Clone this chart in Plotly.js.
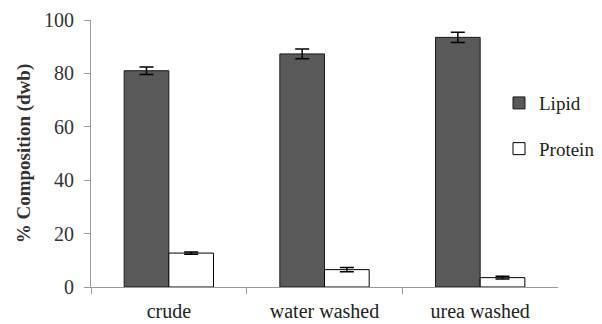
<!DOCTYPE html>
<html><head><meta charset="utf-8">
<script src="https://cdn.plot.ly/plotly-3.0.1.min.js"></script>
<style>html,body{margin:0;padding:0;background:#fff}</style>
</head><body>
<div id="chart" style="width:602px;height:324px"></div>
<script>
const categories = ["crude", "water washed", "urea washed"];
const lipid = [81.0, 87.3, 93.5];
const lipidErr = [1.4, 1.8, 1.9];
const protein = [12.7, 6.5, 3.5];
const proteinErr = [0.4, 0.8, 0.5];
const yTicks = [0, 20, 40, 60, 80, 100];

const serif = "Times New Roman, Noto Serif, Liberation Serif, serif";
const data = [
  {type: "bar", name: "Lipid", x: categories, y: lipid, legendgroup: "a",
   marker: {color: "#595959", line: {color: "#1a1a1a", width: 1}},
   error_y: {type: "data", array: lipidErr, visible: true, color: "#000", thickness: 1.5, width: 7}},
  {type: "bar", name: "Protein", x: categories, y: protein, legendgroup: "b",
   marker: {color: "#ffffff", line: {color: "#000", width: 1}},
   error_y: {type: "data", array: proteinErr, visible: true, color: "#000", thickness: 1.5, width: 7}}
];
const layout = {
  width: 602, height: 324,
  margin: {l: 91, r: 2, t: 20, b: 37},
  paper_bgcolor: "#fff", plot_bgcolor: "#fff",
  barmode: "group", bargap: 0.426, bargroupgap: 0,
  font: {family: serif, size: 20, color: "#333"},
  xaxis: {type: "category", domain: [0, 0.9175], showline: true, linecolor: "#999", linewidth: 1,
          ticks: "outside", tickson: "boundaries", ticklen: 6, tickcolor: "#999", ticklabelstandoff: 6,
          showgrid: false, zeroline: false, tickfont: {family: serif, size: 20, color: "#222"}},
  yaxis: {range: [0, 100], tickvals: yTicks, showline: true, linecolor: "#999", linewidth: 1,
          ticks: "outside", ticklen: 6, tickcolor: "#999", ticklabelstandoff: 6,
          showgrid: false, zeroline: false,
          tickfont: {family: serif, size: 20, color: "#333"},
          title: {text: "<b>% Composition (dwb)</b>", font: {family: serif, size: 19, color: "#333"}, standoff: 8}},
  legend: {x: 1.0, y: 0.76, xanchor: "right", yanchor: "top", font: {family: serif, size: 19, color: "#222"},
           traceorder: "grouped", tracegroupgap: 18, itemwidth: 30, bgcolor: "rgba(0,0,0,0)"},
  showlegend: true
};
Plotly.newPlot("chart", data, layout, {displayModeBar: false, staticPlot: true});
</script>
</body></html>
